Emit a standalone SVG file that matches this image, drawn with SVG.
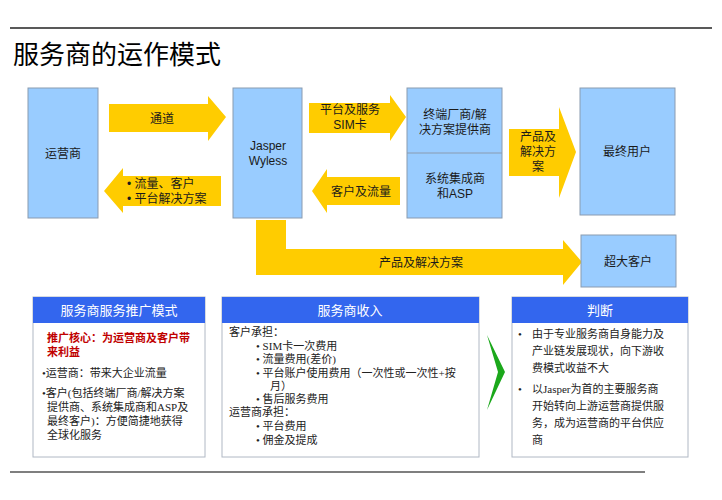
<svg xmlns="http://www.w3.org/2000/svg" width="722" height="500" viewBox="0 0 722 500">
<style>
.bx{fill:#99CCFF;stroke:#8a9bb0;stroke-width:1}
.ar{fill:#FFCC00}
.t{font-family:"Liberation Sans","Noto Sans CJK SC",sans-serif;font-size:12px;fill:#1a1a1a}
.c{text-anchor:middle}
.s{font-family:"Liberation Serif","Noto Sans CJK SC",serif;font-size:11px;fill:#222}
.hd{fill:#3366EE}
.ht{font-family:"Liberation Sans","Noto Sans CJK SC",sans-serif;font-size:13px;fill:#fff;text-anchor:middle}
.pn{fill:#fff;stroke:#b0b8c4;stroke-width:1}
</style>
<rect width="722" height="500" fill="#fff"/>
<line x1="10" y1="28" x2="712" y2="28" stroke="#222" stroke-width="1.5"/>
<text x="13" y="64" font-family="Liberation Sans,Noto Sans CJK SC,sans-serif" font-size="26" fill="#000">服务商的运作模式</text>
<line x1="10" y1="472" x2="645" y2="472" stroke="#555" stroke-width="1.5"/>

<g id="connectors">
<polygon class="ar" points="109,104 208,104 208,96 226,117 208,141 208,132 109,132"/>
<polygon class="ar" points="221,176 123,176 123,168 104,191 123,213 123,206 221,206"/>
<polygon class="ar" points="309,103 390,103 390,95 406,117 390,141 390,133 309,133"/>
<polygon class="ar" points="400,177 327,177 327,169 312,191 327,213 327,205 400,205"/>
<polygon class="ar" points="509,129 559,129 559,107 576,152 559,198 559,176 509,176"/>
<polygon class="ar" points="256,220 286,220 286,249 563,249 563,240 582,262 563,285 563,275 256,275"/>
<polygon fill="#1BA81B" points="487,335 498,372 487,410 505,372"/>
<text class="t c" x="162" y="123">通道</text>
<text class="t" x="127" y="188">•  流量、客户</text>
<text class="t" x="127" y="203">•  平台解决方案</text>
<text class="t c" x="350" y="114">平台及服务</text>
<text class="t c" x="350" y="129">SIM卡</text>
<text class="t c" x="361" y="196">客户及流量</text>
<text class="t c" x="538" y="141">产品及</text>
<text class="t c" x="538" y="156">解决方</text>
<text class="t c" x="538" y="171">案</text>
<text class="t c" x="421" y="267">产品及解决方案</text>
</g>

<g id="n-operator"><rect class="bx" x="28" y="88" width="70" height="130"/><text class="t c" x="63" y="158">运营商</text></g>
<g id="n-jasper"><rect class="bx" x="233" y="88" width="69" height="130"/><text class="t c" x="268" y="150">Jasper</text><text class="t c" x="268" y="165">Wyless</text></g>
<g id="n-vendor"><rect class="bx" x="407" y="88" width="95" height="130"/><line x1="407" y1="153" x2="502" y2="153" stroke="#8a9bb0"/>
<text class="t c" x="455" y="119">终端厂商/解</text><text class="t c" x="455" y="134">决方案提供商</text>
<text class="t c" x="455" y="183">系统集成商</text><text class="t c" x="455" y="198">和ASP</text></g>
<g id="n-enduser"><rect class="bx" x="580" y="88" width="95" height="127"/><text class="t c" x="627" y="156">最终用户</text></g>
<g id="n-bigcust"><rect class="bx" x="581" y="235" width="95" height="52"/><text class="t c" x="628" y="266">超大客户</text></g>

<g id="p-promo">
<rect class="pn" x="33" y="297" width="172" height="160"/><rect class="hd" x="33" y="297" width="172" height="26"/>
<text class="ht" x="119" y="315">服务商服务推广模式</text>
<text class="s" x="47" y="342" font-weight="bold" style="fill:#C00000">推广核心：为运营商及客户带</text>
<text class="s" x="47" y="356" font-weight="bold" style="fill:#C00000">来利益</text>
<text class="s" x="42" y="377">•运营商：带来大企业流量</text>
<text class="s" x="42" y="397">•客户(包括终端厂商/解决方案</text>
<text class="s" x="47" y="411">提供商、系统集成商和ASP及</text>
<text class="s" x="47" y="425">最终客户)：方便简捷地获得</text>
<text class="s" x="47" y="439">全球化服务</text>
</g>
<g id="p-income">
<rect class="pn" x="222" y="297" width="257" height="160"/><rect class="hd" x="222" y="297" width="257" height="26"/>
<text class="ht" x="350" y="315">服务商收入</text>
<text class="s" x="229" y="336">客户承担：</text>
<text class="s" x="256" y="350">•   SIM卡一次费用</text>
<text class="s" x="256" y="363">•   流量费用(差价)</text>
<text class="s" x="256" y="377">•   平台账户使用费用（一次性或一次性+按</text>
<text class="s" x="270" y="390">月）</text>
<text class="s" x="256" y="403">•   售后服务费用</text>
<text class="s" x="229" y="416">运营商承担：</text>
<text class="s" x="256" y="430">•   平台费用</text>
<text class="s" x="256" y="444">•   佣金及提成</text>
</g>
<g id="p-judge">
<rect class="pn" x="512" y="297" width="176" height="160"/><rect class="hd" x="512" y="297" width="176" height="26"/>
<text class="ht" x="600" y="315">判断</text>
<text class="s" x="518" y="338">•</text>
<text class="s" x="532" y="338">由于专业服务商自身能力及</text>
<text class="s" x="532" y="355">产业链发展现状，向下游收</text>
<text class="s" x="532" y="372">费模式收益不大</text>
<text class="s" x="518" y="393">•</text>
<text class="s" x="532" y="393">以Jasper为首的主要服务商</text>
<text class="s" x="532" y="410">开始转向上游运营商提供服</text>
<text class="s" x="532" y="427">务，成为运营商的平台供应</text>
<text class="s" x="532" y="444">商</text>
</g>
</svg>
